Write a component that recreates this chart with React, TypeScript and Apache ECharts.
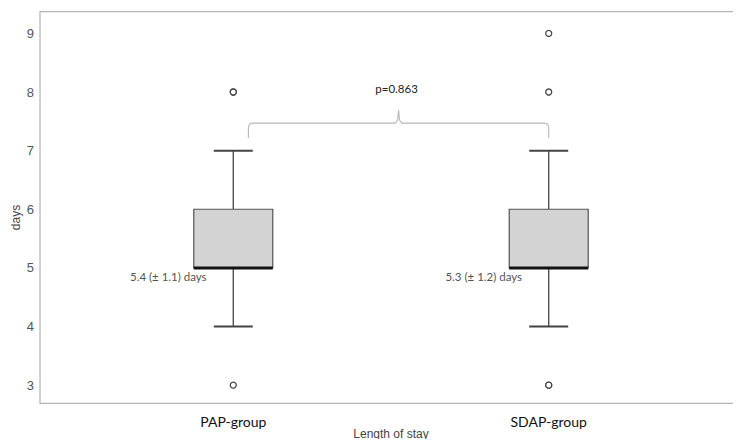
import React, { useEffect, useRef } from "react";
import * as echarts from "echarts";

// Groups (x positions 0 and 1 on the value axis)
const groups = ["PAP-group", "SDAP-group"];
// Box statistics: [group index, min, Q1, median, Q3, max]
const boxStats = [
  [0, 4, 5, 5, 6, 7],
  [1, 4, 5, 5, 6, 7],
];
// Outliers: [group index, days] (repeated points overlap)
const outliers = [
  [0, 8],
  [0, 8],
  [0, 3],
  [1, 9],
  [1, 8],
  [1, 3],
  [1, 3],
];
// Mean (± SD) annotations
const meanLabels = ["5.4 (± 1.1) days", "5.3 (± 1.2) days"];
const meanLabelLevel = 4.85;
// Significance bracket: [from x, to x, level]
const bracket = [[0.048, 1.0, 7.47]];
const pValueText = "p=0.863";
// Y tick labels
const yTicks = [3, 4, 5, 6, 7, 8, 9];

export default function App() {
  const ref = useRef<HTMLDivElement>(null);

  useEffect(() => {
    if (!ref.current) return;
    const chart = echarts.init(ref.current, undefined, { renderer: "svg" });

    const option: any = {
      animation: false,
      backgroundColor: "#ffffff",
      grid: {
        left: 40,
        right: -1,
        top: 11.7,
        bottom: 43.7,
        outerBoundsMode: "none",
        containLabel: false,
        show: true,
        borderColor: "#b5b5b5",
        borderWidth: 1.2,
        backgroundColor: "transparent",
      },
      xAxis: {
        type: "value",
        min: -0.6127,
        max: 1.6127,
        name: "Length of stay",
        nameLocation: "middle",
        nameGap: 25,
        nameMoveOverlap: false,
        nameTextStyle: {
          fontFamily: "Liberation Sans",
          fontSize: 12,
          color: "#444",
        },
        axisLine: { show: false },
        axisTick: { show: false },
        splitLine: { show: false },
        axisLabel: {
          customValues: [0, 1],
          formatter: (v: number) => groups[Math.round(v)] ?? "",
          fontFamily: "Lato",
          fontSize: 14,
          color: "#111",
          margin: 11,
        },
      },
      yAxis: {
        type: "value",
        min: 2.69,
        max: 9.37,
        name: "days",
        nameLocation: "middle",
        nameGap: 18,
        nameMoveOverlap: false,
        nameTextStyle: {
          fontFamily: "Liberation Sans",
          fontSize: 12,
          color: "#444",
          padding: [0, 20, 0, 0],
        },
        axisLine: { show: false },
        axisTick: { show: false },
        splitLine: { show: false },
        axisLabel: {
          customValues: yTicks,
          fontFamily: "Liberation Sans",
          fontSize: 13,
          color: "#555",
          margin: 6,
        },
      },
      series: [
        {
          type: "custom",
          data: boxStats,
          renderItem: (params: any, api: any) => {
            const x = api.value(0);
            const pMin = api.coord([x, api.value(1)]);
            const pQ1 = api.coord([x, api.value(2)]);
            const pMed = api.coord([x, api.value(3)]);
            const pQ3 = api.coord([x, api.value(4)]);
            const pMax = api.coord([x, api.value(5)]);
            const cx = pMed[0];
            const boxW = 79;
            const capW = 39;
            const whisker = { stroke: "#444", lineWidth: 1.3 };
            return {
              type: "group",
              children: [
                { type: "line", shape: { x1: cx, y1: pQ1[1], x2: cx, y2: pMin[1] }, style: whisker },
                { type: "line", shape: { x1: cx, y1: pQ3[1], x2: cx, y2: pMax[1] }, style: whisker },
                { type: "line", shape: { x1: cx - capW / 2, y1: pMin[1], x2: cx + capW / 2, y2: pMin[1] }, style: { stroke: "#444", lineWidth: 2 } },
                { type: "line", shape: { x1: cx - capW / 2, y1: pMax[1], x2: cx + capW / 2, y2: pMax[1] }, style: { stroke: "#444", lineWidth: 2 } },
                {
                  type: "rect",
                  shape: { x: cx - boxW / 2, y: pQ3[1], width: boxW, height: pQ1[1] - pQ3[1] },
                  style: { fill: "#d3d3d3", stroke: "#555", lineWidth: 1.2 },
                },
                {
                  type: "line",
                  shape: { x1: cx - boxW / 2, y1: pMed[1], x2: cx + boxW / 2, y2: pMed[1] },
                  style: { stroke: "#111", lineWidth: 3 },
                },
              ],
            };
          },
          z: 2,
        },
        {
          type: "scatter",
          data: outliers,
          symbol: "circle",
          symbolSize: 6,
          itemStyle: { color: "#ffffff", borderColor: "#444", borderWidth: 1.3, opacity: 1 },
          z: 3,
        },
        {
          type: "scatter",
          data: meanLabels.map((t, i) => [i, meanLabelLevel, t]),
          symbolSize: 0,
          label: {
            show: true,
            position: "inside",
            offset: [-65, 0],
            formatter: (p: any) => p.value[2],
            fontFamily: "Lato",
            fontSize: 11.5,
            color: "#222",
          },
          z: 4,
        },
        {
          type: "custom",
          data: bracket,
          renderItem: (params: any, api: any) => {
            const a = api.coord([api.value(0), api.value(2)]);
            const b = api.coord([api.value(1), api.value(2)]);
            const y = a[1];
            const x0 = a[0];
            const x1 = b[0];
            const xm = (x0 + x1) / 2;
            const drop = 15;
            const rise = 13;
            const r = 4;
            return {
              type: "group",
              children: [
                {
                  type: "polyline",
                  shape: {
                    points: [
                      [x0, y + drop],
                      [x0, y + r],
                      [x0 + 1.2, y + 1.2],
                      [x0 + r, y],
                      [xm - 3, y],
                      [xm - 1, y - 3],
                      [xm, y - rise],
                      [xm + 1, y - 3],
                      [xm + 3, y],
                      [x1 - r, y],
                      [x1 - 1.2, y + 1.2],
                      [x1, y + r],
                      [x1, y + drop],
                    ],
                  },
                  style: { stroke: "#b8b8b8", lineWidth: 1.1, fill: null },
                },
                {
                  type: "text",
                  style: {
                    text: pValueText,
                    x: xm - 2,
                    y: y - rise - 22,
                    align: "center",
                    verticalAlign: "middle",
                    fontFamily: "Lato",
                    fontSize: 11.5,
                    fill: "#222",
                  },
                },
              ],
            };
          },
          z: 1,
        },
      ],
    };

    chart.setOption(option);
    return () => chart.dispose();
  }, []);

  return <div ref={ref} style={{ width: 741, height: 447, margin: -8 }} />;
}
